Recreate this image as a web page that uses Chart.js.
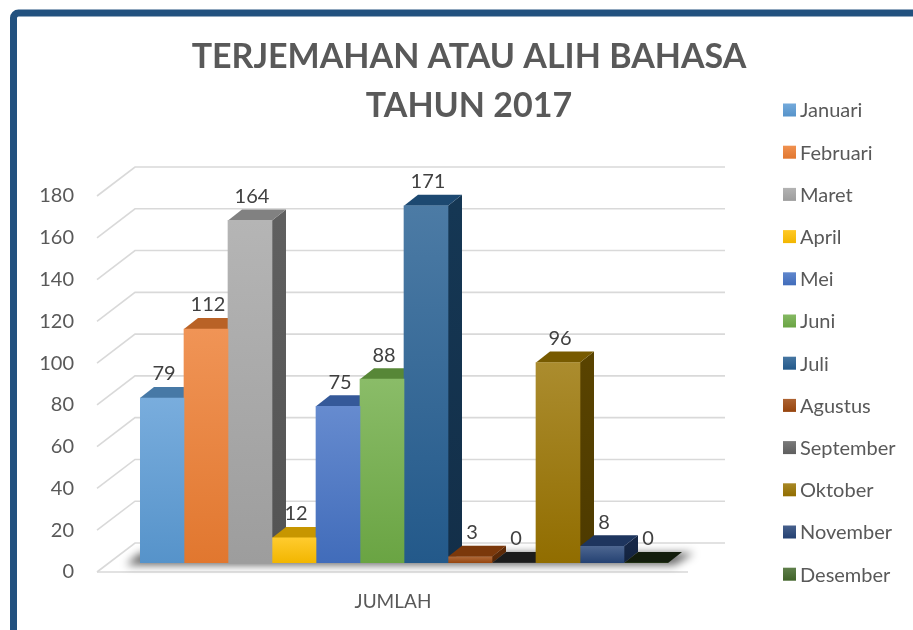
<!DOCTYPE html>
<html><head><meta charset="utf-8">
<script src="https://cdn.jsdelivr.net/npm/chart.js@4/dist/chart.umd.min.js"></script>
<style>html,body{margin:0;padding:0;background:#fff;overflow:hidden}canvas{display:block}</style>
</head><body>
<canvas id="c" width="913" height="630"></canvas>
<script>
const categories = ['JUMLAH'];
const months = ['Januari','Februari','Maret','April','Mei','Juni','Juli','Agustus','September','Oktober','November','Desember'];
const values = [79, 112, 164, 12, 75, 88, 171, 3, 0, 96, 8, 0];
const colors = ['#5B9BD5','#ED7D31','#A5A5A5','#FFC000','#4472C4','#70AD47','#255E91','#9E480E','#636363','#997300','#264478','#43682B'];
const yTickValues = [0, 20, 40, 60, 80, 100, 120, 140, 160, 180];
const titleLines = ['TERJEMAHAN ATAU ALIH BAHASA', 'TAHUN 2017'];

const DX = 14, DY = 11;           // bar depth offset
const WX = 38, WFY = 9, WBY = 20;  // floor / wall depth
const FONT = 'Lato, "Open Sans", sans-serif';

function hexToRgb(h){h=h.replace('#','');return [parseInt(h.substr(0,2),16),parseInt(h.substr(2,2),16),parseInt(h.substr(4,2),16)];}
function mix(hex, f){ // f<0 darker toward black, f>0 lighter toward white
  const [r,g,b]=hexToRgb(hex);
  const t = f<0 ? 0 : 255, a = Math.abs(f);
  return `rgb(${Math.round(r+(t-r)*a)},${Math.round(g+(t-g)*a)},${Math.round(b+(t-b)*a)})`;
}

const frontFill = (ctx) => {
  const chart = ctx.chart, ys = chart.scales && chart.scales.y;
  const c = colors[ctx.datasetIndex];
  if (!ys || typeof ctx.raw !== 'number') return c;
  const top = ys.getPixelForValue(ctx.raw), bot = ys.getPixelForValue(0);
  if (!isFinite(top) || !isFinite(bot) || bot - top < 1) return c;
  const g = chart.ctx.createLinearGradient(0, top, 0, bot);
  g.addColorStop(0, mix(c, 0.18));
  g.addColorStop(1, mix(c, -0.05));
  return g;
};

const threeD = {
  id: 'threeD',
  beforeDraw(chart){
    const ctx = chart.ctx;
    ctx.save();
    ctx.fillStyle = '#fff';
    ctx.fillRect(0,0,chart.width,chart.height);
    ctx.strokeStyle = '#22517F';
    ctx.lineWidth = 7;
    ctx.beginPath();
    ctx.roundRect(13.5, 13, 1200, 900, 5);
    ctx.stroke();
    ctx.restore();
  },
  beforeDatasetsDraw(chart){
    const ctx = chart.ctx, ys = chart.scales.y, ca = chart.chartArea;
    const base = ys.getPixelForValue(0);
    const fx = ca.left - 43, bx = fx + WX, rx = ca.right + 57;
    ctx.save();
    ctx.strokeStyle = '#d9d9d9';
    ctx.lineWidth = 1.6;
    yTickValues.forEach(v => {
      const y = ys.getPixelForValue(v);
      ctx.beginPath();
      ctx.moveTo(fx, y + WFY);
      ctx.lineTo(bx, y - WBY);
      ctx.lineTo(rx, y - WBY);
      ctx.stroke();
    });
    ctx.beginPath();
    ctx.moveTo(fx, base + WFY);
    ctx.lineTo(ca.right + 20, base + WFY);
    ctx.stroke();
    ctx.filter = 'blur(4px)';
    ctx.fillStyle = 'rgba(0,0,0,0.6)';
    ctx.beginPath();
    ctx.moveTo(ca.left - 14, base + 2);
    ctx.lineTo(ca.right + 6, base + 2);
    ctx.lineTo(ca.right + DX + 12, base - DY + 1);
    ctx.lineTo(ca.left, base - DY + 1);
    ctx.closePath();
    ctx.fill();
    ctx.filter = 'none';
    chart.data.datasets.forEach((ds, i) => {
      const meta = chart.getDatasetMeta(i);
      meta.data.forEach(el => {
        const l = el.x - el.width/2, r = el.x + el.width/2, t = el.y, b = el.base;
        const c = colors[i];
        if (b - t > 0.5) {
          const gs = ctx.createLinearGradient(0, t, 0, b);
          gs.addColorStop(0, mix(c, -0.42));
          gs.addColorStop(1, mix(c, -0.5));
          ctx.fillStyle = gs;
          ctx.beginPath();
          ctx.moveTo(r, t); ctx.lineTo(r + DX, t - DY); ctx.lineTo(r + DX, b - DY); ctx.lineTo(r, b);
          ctx.closePath(); ctx.fill();
        }
        ctx.fillStyle = ds.data[0] === 0 ? mix(c, -0.72) : mix(c, -0.22);
        ctx.beginPath();
        ctx.moveTo(l, t); ctx.lineTo(r, t); ctx.lineTo(r + DX, t - DY); ctx.lineTo(l + DX, t - DY);
        ctx.closePath(); ctx.fill();
      });
    });
    ctx.restore();
  },
  afterDatasetsDraw(chart){
    const ctx = chart.ctx;
    ctx.save();
    ctx.font = `20px ${FONT}`;
    ctx.fillStyle = '#404040';
    ctx.textAlign = 'center';
    ctx.textBaseline = 'middle';
    chart.data.datasets.forEach((ds, i) => {
      chart.getDatasetMeta(i).data.forEach((el, j) => {
        ctx.fillText(String(ds.data[j]), el.x + 2, el.y - 24);
      });
    });
    ctx.fillStyle = '#595959';
    ctx.font = `bold 34px ${FONT}`;
    ctx.fillText(titleLines[0], 469, 57);
    ctx.fillText(titleLines[1], 469, 106);
    ctx.textAlign = 'left';
    ctx.font = `20px ${FONT}`;
    months.forEach((m, i) => {
      const y = 110 + i * 42.2;
      const g = ctx.createLinearGradient(0, y - 6.5, 0, y + 6.5);
      g.addColorStop(0, mix(colors[i], 0.15));
      g.addColorStop(1, mix(colors[i], -0.05));
      ctx.fillStyle = g;
      ctx.fillRect(783, y - 6.5, 13, 13);
      ctx.fillStyle = '#595959';
      ctx.fillText(m, 800, y + 1);
    });
    ctx.restore();
  }
};

new Chart(document.getElementById('c'), {
  type: 'bar',
  data: {
    labels: categories,
    datasets: months.map((m, i) => ({
      label: m,
      data: [values[i]],
      backgroundColor: frontFill,
      borderWidth: 0,
      barPercentage: 1,
      categoryPercentage: 1
    }))
  },
  options: {
    responsive: false,
    devicePixelRatio: 1,
    animation: false,
    events: [],
    layout: { padding: { left: 0, right: 245, top: 187, bottom: 0 } },
    plugins: { legend: { display: false }, title: { display: false }, tooltip: { enabled: false } },
    scales: {
      x: {
        grid: { display: false, drawTicks: false },
        border: { display: false },
        ticks: { color: '#595959', font: { size: 19, family: FONT }, padding: 27, labelOffset: -11 },
        afterFit: s => { s.height = 67; }
      },
      y: {
        min: 0, max: 180,
        grid: { display: false, drawTicks: false },
        border: { display: false },
        ticks: { stepSize: 20, color: '#595959', font: { size: 20, family: FONT }, padding: 66, labelOffset: 9 },
        afterFit: s => { s.width = 140; s.paddingBottom = 0; s.paddingTop = 0; }
      }
    }
  },
  plugins: [threeD]
});
</script>
</body></html>
